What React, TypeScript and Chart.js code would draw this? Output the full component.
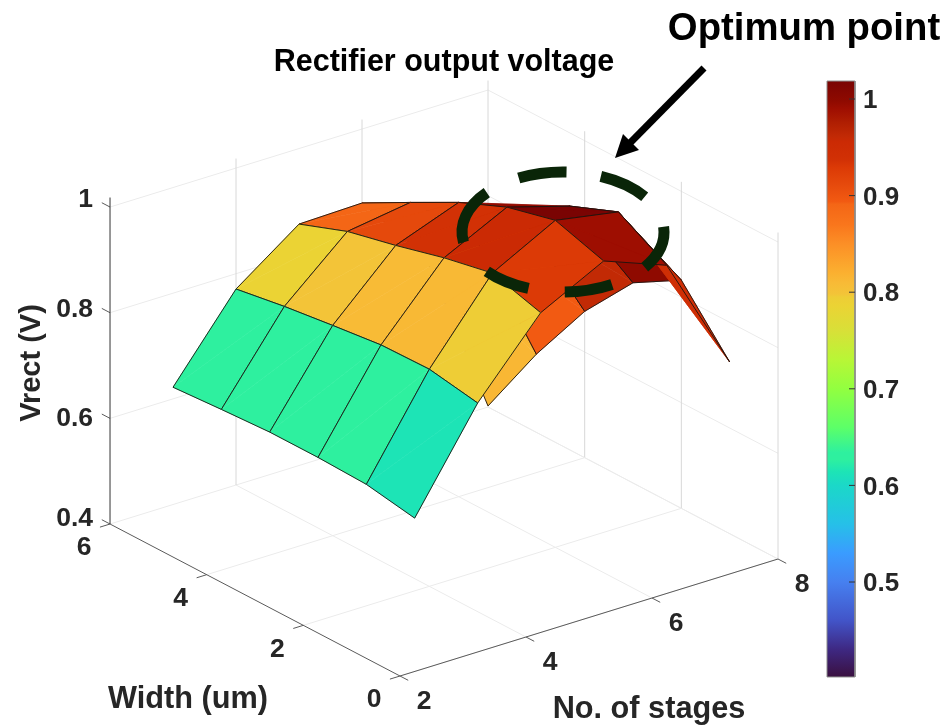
import React, { useEffect, useRef } from "react";
import { Chart, registerables } from "chart.js";

Chart.register(...registerables);

// Surface data: Vrect for each number of stages, ordered by width 1..6 um
const widths = [1, 2, 3, 4, 5, 6];
const stages = [3, 4, 5, 6, 7, 8];
const vrectStage3 = [0.614, 0.63, 0.633, 0.633, 0.628, 0.622];
const vrectStage4 = [0.795, 0.811, 0.809, 0.798, 0.786, 0.771];
const vrectStage5 = [0.929, 0.956, 0.937, 0.9125, 0.891, 0.857];
const vrectStage6 = [0.99, 1.019, 0.996, 0.957, 0.909, 0.86];
const vrectStage7 = [0.945, 0.998, 0.961, 0.894, 0.813, 0.723];
const vrectStage8 = [0.725, 0.832, 0.779, 0.677, 0.548, 0.402];
const vrect = [vrectStage3, vrectStage4, vrectStage5, vrectStage6, vrectStage7, vrectStage8];

// Axes
const stageTicks = [2, 4, 6, 8];
const widthTicks = [0, 2, 4, 6];
const voltTicks = [0.4, 0.6, 0.8, 1];
const colorbarTicks = [0.5, 0.6, 0.7, 0.8, 0.9, 1];
const colorMin = 0.4017;
const colorMax = 1.0186;
const zTop = 1.018;

// Colormap
const mapValues = [
  0.4017, 0.43, 0.46, 0.5, 0.53, 0.56, 0.6, 0.614, 0.627, 0.634, 0.66, 0.7, 0.73, 0.76, 0.786, 0.795, 0.798, 0.81, 0.82,
  0.85, 0.87, 0.891, 0.894, 0.9125, 0.929, 0.937, 0.956, 0.961, 0.975, 0.99, 0.998, 1.0186,
];
const mapColors = [
  [58, 16, 64], [62, 40, 130], [66, 84, 200], [70, 128, 240], [58, 156, 255], [38, 192, 232], [27, 216, 200],
  [29, 228, 182], [46, 240, 159], [46, 240, 159], [92, 255, 104], [146, 255, 64], [184, 246, 54], [216, 224, 56],
  [235, 211, 52], [238, 205, 54], [243, 196, 56], [248, 186, 54], [251, 176, 48], [252, 143, 38], [249, 118, 28],
  [244, 102, 22], [242, 90, 18], [229, 73, 12], [220, 58, 6], [210, 49, 5], [203, 42, 4], [194, 42, 5], [176, 31, 2],
  [158, 14, 1], [143, 10, 0], [122, 4, 3],
];

function colorOf(v: number): string {
  let i = 0;
  while (i < mapValues.length - 2 && v > mapValues[i + 1]) i++;
  const f = Math.min(1, Math.max(0, (v - mapValues[i]) / (mapValues[i + 1] - mapValues[i])));
  const c = mapColors[i].map((a, k) => Math.round(a + (mapColors[i + 1][k] - a) * f));
  return `rgb(${c[0]},${c[1]},${c[2]})`;
}

// 3D view -> page pixels
function project(s: number, w: number, z: number) {
  return {
    x: 400 - 48.33 * w + 63 * (s - 2),
    y: 676 - 25.33 * w - 19.5 * (s - 2) - 528.3 * (z - 0.4),
  };
}

const barLeft = 827;
const barRight = 855;
const barY = (v: number) => 99 + (1 - v) * 966;

function lineSet(points: { x: number; y: number }[], color: string, width: number) {
  return {
    data: points,
    showLine: true,
    fill: false,
    borderColor: color,
    borderWidth: width,
    pointRadius: 0,
    clip: false as const,
    tension: 0,
  };
}

function triangle(points: { x: number; y: number }[], color: string) {
  return {
    ...lineSet([...points, points[0]], color, 0.6),
    fill: "shape",
    backgroundColor: color,
  };
}

function buildDatasets(gradient: CanvasGradient) {
  const sets: any[] = [];

  // colorbar
  colorbarTicks.forEach((v) => {
    sets.push(lineSet([{ x: barRight - 6, y: barY(v) }, { x: barRight, y: barY(v) }], "#333333", 1));
  });
  sets.push({
    ...lineSet(
      [
        { x: barLeft, y: barY(colorMax) },
        { x: barRight, y: barY(colorMax) },
        { x: barRight, y: barY(colorMin) },
        { x: barLeft, y: barY(colorMin) },
        { x: barLeft, y: barY(colorMax) },
      ],
      "#8a8a8a",
      1
    ),
    fill: "shape",
    backgroundColor: gradient,
  });

  // surface: near faces first, so that they end up on top.
  // Each face is filled as two triangles sharing one diagonal, then outlined.
  for (let i = 0; i < stages.length - 1; i++) {
    for (let j = 0; j < widths.length - 1; j++) {
      const a = project(stages[i], widths[j], vrect[i][j]);
      const b = project(stages[i], widths[j + 1], vrect[i][j + 1]);
      const c = project(stages[i + 1], widths[j + 1], vrect[i + 1][j + 1]);
      const d = project(stages[i + 1], widths[j], vrect[i + 1][j]);
      const color = colorOf(vrect[i][j]);
      sets.push(lineSet([a, b, c, d, a], "rgba(25,20,15,0.9)", 1));
      sets.push(triangle([a, b, d], color));
      sets.push(triangle([b, c, d], color));
    }
  }

  // axes and ticks
  const axisColor = "#5a5a5a";
  const s0 = stageTicks[0];
  const s1 = stageTicks[stageTicks.length - 1];
  const w0 = widthTicks[0];
  const w1 = widthTicks[widthTicks.length - 1];
  const z0 = voltTicks[0];
  sets.push(lineSet([project(s0, w1, z0), project(s0, w1, zTop)], "#333333", 1));
  sets.push(lineSet([project(s0, w1, z0), project(s0, w0, z0)], axisColor, 1));
  sets.push(lineSet([project(s0, w0, z0), project(s1, w0, z0)], axisColor, 1));
  voltTicks.forEach((z) => sets.push(lineSet([project(s0, w1, z), project(s0, w1 + 0.17, z)], axisColor, 1)));
  stageTicks.forEach((s) => sets.push(lineSet([project(s, w0, z0), project(s, w0 - 0.17, z0)], axisColor, 1)));
  widthTicks.forEach((w) => sets.push(lineSet([project(s0, w, z0), project(s0 - 0.16, w, z0)], axisColor, 1)));

  // grid
  const gridColor = "#ebebeb";
  const gridDark = "#d8d8d8";
  stageTicks.slice(1).forEach((s) => {
    sets.push(lineSet([project(s, w1, z0), project(s, w1, zTop)], gridDark, 1));
    sets.push(lineSet([project(s, w0, z0), project(s, w1, z0)], gridColor, 1));
  });
  widthTicks.slice(0, -1).forEach((w) => {
    sets.push(lineSet([project(s1, w, z0), project(s1, w, zTop)], gridDark, 1));
    sets.push(lineSet([project(s0, w, z0), project(s1, w, z0)], gridColor, 1));
  });
  sets.push(lineSet([project(s0, w1, z0), project(s1, w1, z0)], gridColor, 1));
  sets.push(lineSet([project(s1, w0, z0), project(s1, w1, z0)], gridColor, 1));
  voltTicks.slice(1).forEach((z) => {
    sets.push(lineSet([project(s0, w1, z), project(s1, w1, z)], gridColor, 1));
    sets.push(lineSet([project(s1, w1, z), project(s1, w0, z)], gridColor, 1));
  });
  return sets;
}

const ellipseDashes = [
  [-190, -139],
  [-116, -88],
  [-68, -36],
  [-5, 36],
  [61, 89],
  [110, 139],
];

const textPlugin = {
  id: "texts",
  afterDraw(chart: any) {
    const ctx: CanvasRenderingContext2D = chart.ctx;
    const X = (v: number) => chart.scales.x.getPixelForValue(v);
    const Y = (v: number) => chart.scales.y.getPixelForValue(v);
    const font = (px: number) => `bold ${px}px "Liberation Sans", Arial, sans-serif`;

    const put = (t: string, x: number, y: number, px: number, color: string, align: CanvasTextAlign = "center") => {
      ctx.font = font(px);
      ctx.fillStyle = color;
      ctx.textAlign = align;
      ctx.textBaseline = "middle";
      ctx.fillText(t, X(x), Y(y));
    };

    ctx.save();

    // Dashed ellipse
    ctx.strokeStyle = "#0a2508";
    ctx.lineWidth = 11;
    ctx.lineCap = "butt";
    ellipseDashes.forEach(([a, b]) => {
      ctx.beginPath();
      ctx.ellipse(X(563), Y(232), 101, 60, 0, (a * Math.PI) / 180, (b * Math.PI) / 180);
      ctx.stroke();
    });

    // Arrow
    ctx.strokeStyle = "#000000";
    ctx.lineWidth = 7;
    ctx.beginPath();
    ctx.moveTo(X(704), Y(68));
    ctx.lineTo(X(628), Y(145));
    ctx.stroke();
    ctx.fillStyle = "#000000";
    ctx.beginPath();
    ctx.moveTo(X(615), Y(158));
    ctx.lineTo(X(623), Y(134));
    ctx.lineTo(X(639), Y(150));
    ctx.closePath();
    ctx.fill();

    const dark = "#262626";
    put("Rectifier output voltage", 444, 63, 30.5, "#000000");
    put("Optimum point", 804, 29, 38.3, "#000000");
    put("Width (um)", 188, 700, 30.7, dark);
    put("No. of stages", 649, 710, 30.7, dark);

    ctx.save();
    ctx.translate(X(32), Y(363));
    ctx.rotate(-Math.PI / 2);
    ctx.font = font(29);
    ctx.fillStyle = dark;
    ctx.textAlign = "center";
    ctx.textBaseline = "middle";
    ctx.fillText("Vrect (V)", 0, 0);
    ctx.restore();

    // z tick labels
    const voltY = [519, 419, 310, 200];
    voltTicks.forEach((v, i) => put(String(v), 93, voltY[i], 26.5, dark, "right"));
    // width tick labels
    widthTicks.forEach((w) => {
      const p = project(stageTicks[0], w, voltTicks[0]);
      put(String(w), p.x - 26, p.y + 24, 26.5, dark);
    });
    // stage tick labels
    stageTicks.forEach((s) => {
      const p = project(s, widthTicks[0], voltTicks[0]);
      put(String(s), p.x + 24, p.y + 26, 26.5, dark);
    });
    // colorbar labels
    colorbarTicks.forEach((v) => put(String(v), 863, barY(v) + 2, 26, dark, "left"));

    ctx.restore();
  },
};

export default function App() {
  const ref = useRef<HTMLCanvasElement>(null);
  useEffect(() => {
    const canvas = ref.current!;
    const ctx = canvas.getContext("2d")!;
    const y0 = barY(colorMax);
    const y1 = barY(colorMin);
    const gradient = ctx.createLinearGradient(0, y0, 0, y1);
    mapValues.forEach((v) => {
      gradient.addColorStop(Math.min(1, Math.max(0, (barY(v) - y0) / (y1 - y0))), colorOf(v));
    });
    const chart = new Chart(canvas, {
      type: "scatter",
      data: { datasets: buildDatasets(gradient) },
      options: {
        animation: false,
        responsive: false,
        events: [],
        layout: { padding: 0 },
        scales: {
          x: { type: "linear", min: 0, max: 946, display: false },
          y: { type: "linear", min: 0, max: 725, reverse: true, display: false },
        },
        plugins: { legend: { display: false }, tooltip: { enabled: false }, title: { display: false } },
      },
      plugins: [textPlugin],
    } as any);
    return () => chart.destroy();
  }, []);
  return (
    <canvas
      ref={ref}
      width={946}
      height={725}
      style={{ position: "absolute", left: 0, top: 0, display: "block", background: "#ffffff" }}
    />
  );
}
